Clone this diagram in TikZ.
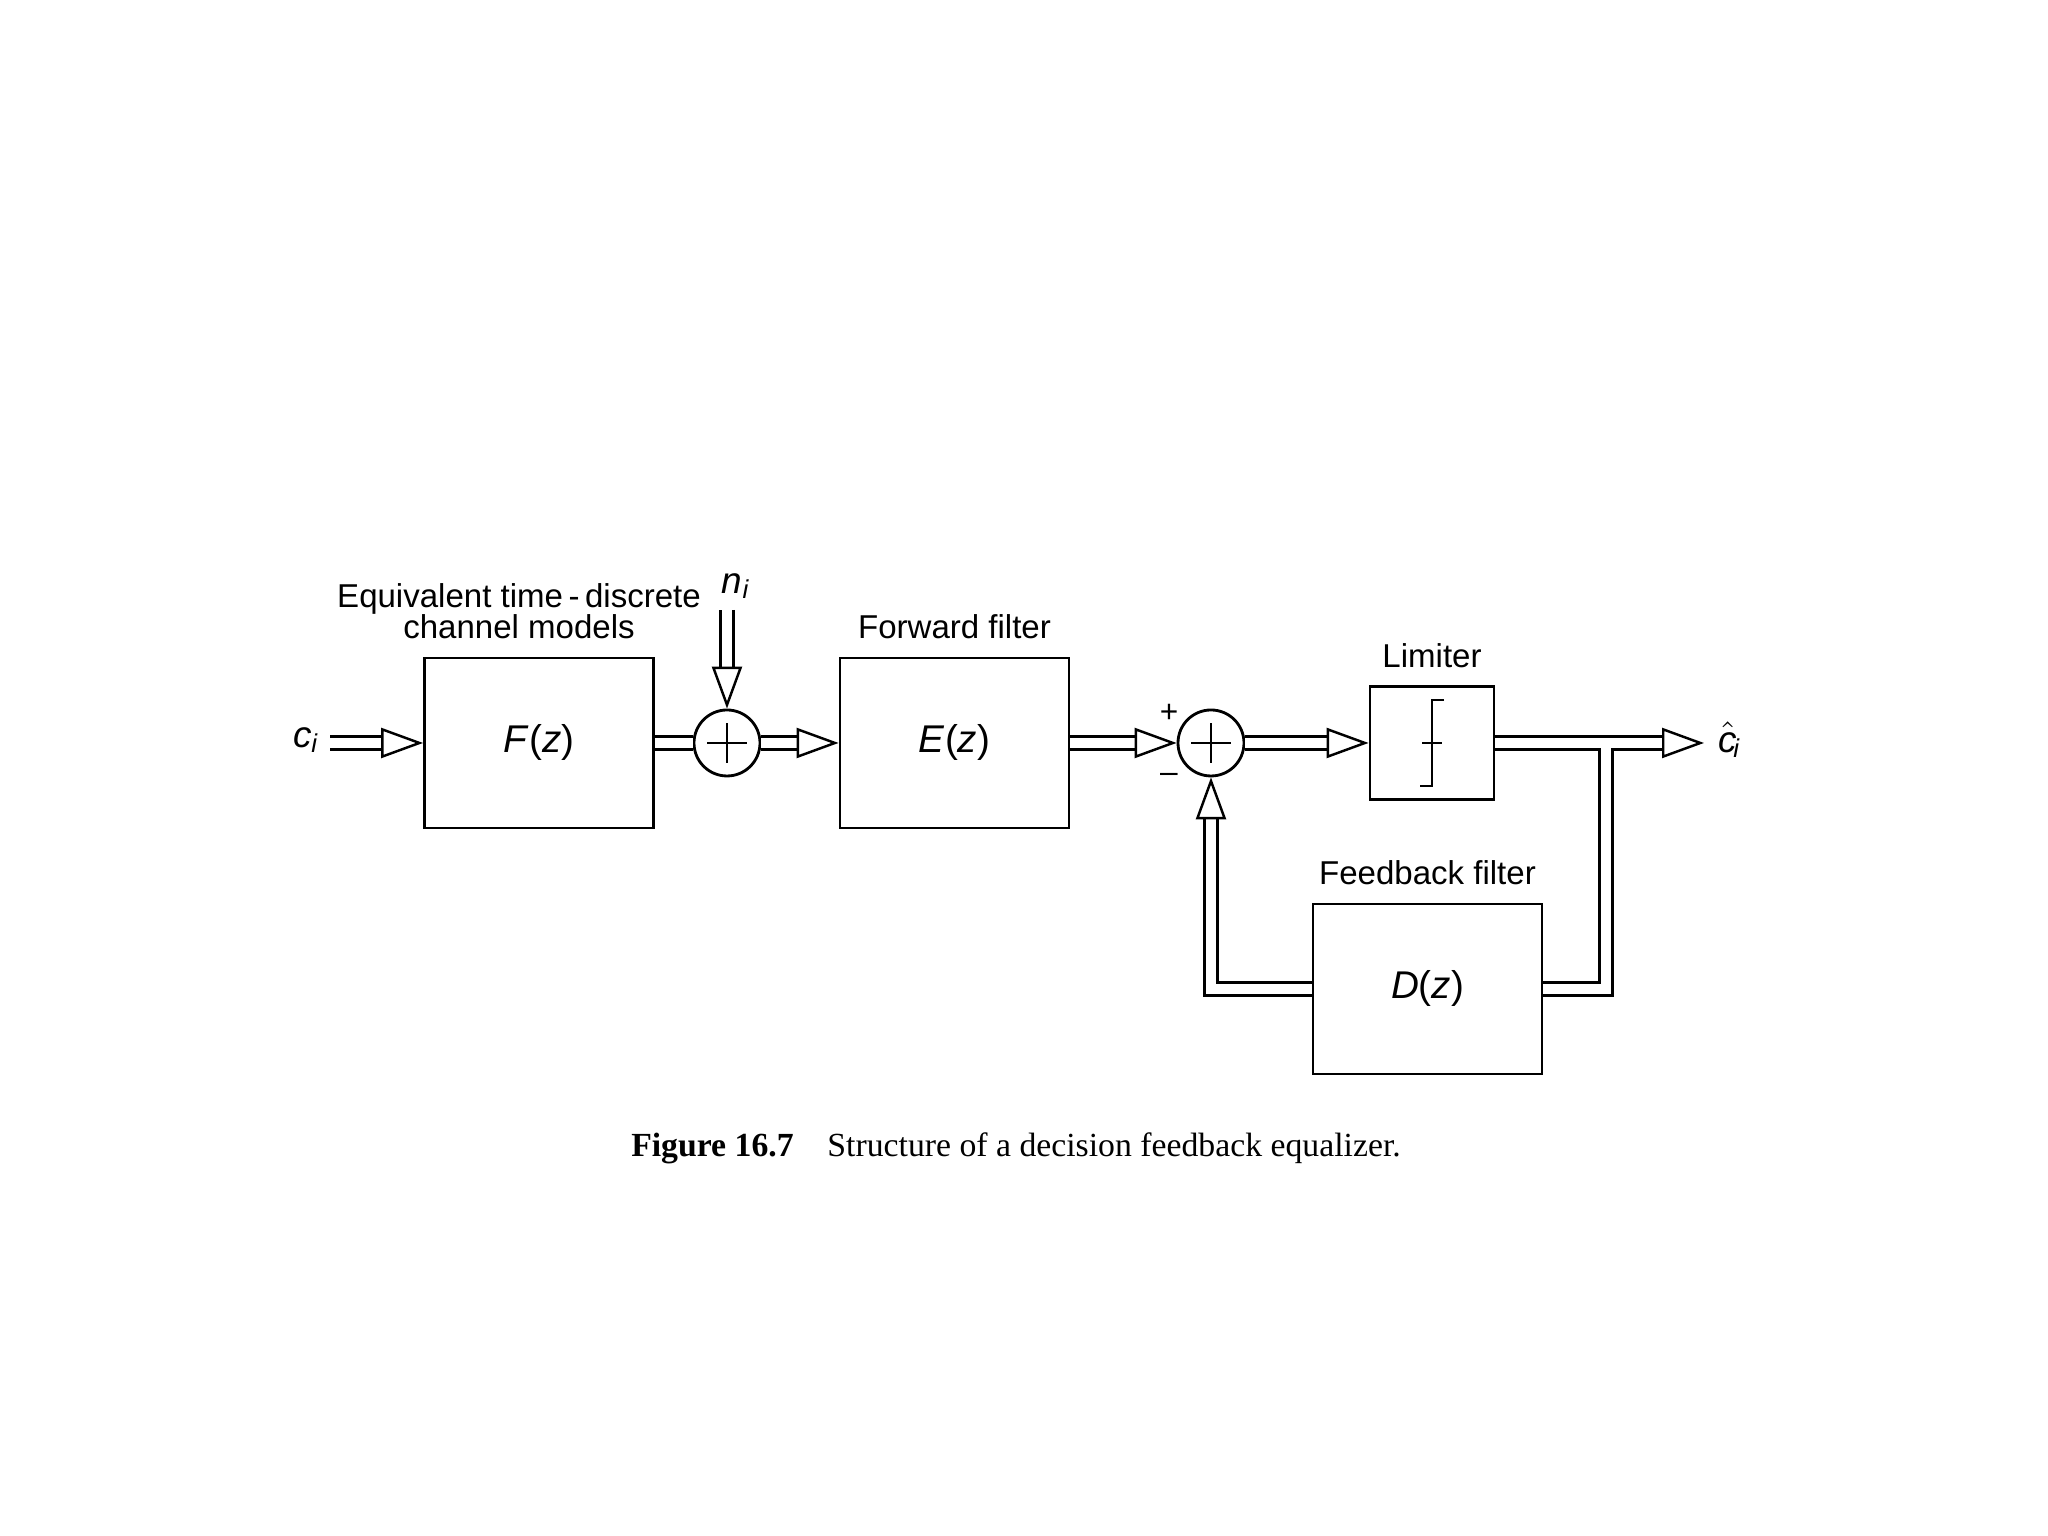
\documentclass[tikz,border=0pt]{standalone}
\usepackage{fontspec}
\setmainfont{Liberation Sans}
\newfontfamily\capfont{Liberation Serif}
\usetikzlibrary{arrows.meta, positioning}
\tikzset{
    block/.style={draw,line width=0.8pt,minimum width=2.29cm,minimum height=1.70cm,font=\fontsize{11}{13}\selectfont},
    adder/.style={draw,circle,line width=0.8pt,minimum size=0.66cm,inner sep=0pt},
    pipe/.style={double,double distance=3pt,line width=0.7pt},
    hollow/.style={-{Triangle[open,length=0.42cm,width=0.3cm,line width=0.7pt]}},
    lbl/.style={font=\fontsize{9.4}{11}\selectfont,align=center},
    sym/.style={font=\fontsize{10.5}{12}\selectfont},
}
\begin{document}
\begin{tikzpicture}
    \useasboundingbox (0,0) rectangle (20.48,15.36);
    % forward path
    \node[block] (F) at (5.39,7.93) {\textit{F}(\textit{z})};
    \node[adder] (s1) at (7.27,7.93) {};
    \node[block] (E) at (9.545,7.93) {\textit{E}(\textit{z})};
    \node[adder] (s2) at (12.11,7.93) {};
    \node[draw,line width=0.8pt,minimum width=1.24cm,minimum height=1.13cm] (lim) at (14.32,7.93) {};
    \node[block] (D) at (14.275,5.47) {\textit{D}(\textit{z})};
    % plus signs in adders
    \foreach \s in {s1,s2}{
        \draw[line width=0.7pt] ([xshift=-0.2cm]\s.center) -- ([xshift=0.2cm]\s.center);
        \draw[line width=0.7pt] ([yshift=-0.2cm]\s.center) -- ([yshift=0.2cm]\s.center);
    }
    % limiter symbol
    \draw[line width=0.7pt] ([xshift=0.12cm,yshift=0.43cm]lim.center) -- ([yshift=0.43cm]lim.center)
        -- ([yshift=-0.43cm]lim.center) -- ([xshift=-0.12cm,yshift=-0.43cm]lim.center);
    \draw[line width=0.7pt] ([xshift=-0.1cm]lim.center) -- ([xshift=0.1cm]lim.center);
    % labels
    \node[sym] (ci) at (3.06,7.96) {\textit{c\textsubscript{i}}};
    \node[sym] (ni) at (7.36,9.50) {\textit{n\textsubscript{i}}};
    \node[sym] (out) at (17.30,7.96) {$\hat{\textit{c}}$\kern-0.1em\textsubscript{\textit{i}}};
    \node[lbl,above=0.05cm of F,xshift=-0.2cm] (Flbl) {Equivalent time\,-\,discrete\\[-2pt]channel models};
    \node[lbl,above=0.05cm of E] (Elbl) {Forward filter};
    \node[lbl,above=0.05cm of lim] (Llbl) {Limiter};
    \node[lbl,above=0.05cm of D] (Dlbl) {Feedback filter};
    \node[font=\fontsize{9}{10}\selectfont] (plus) at (11.69,8.23) {+};
    \node[font=\fontsize{9}{10}\selectfont] (minus) at (11.69,7.58) {--};
    \coordinate (nin) at (7.27,9.26);
    \coordinate (cin) at (3.30,7.93);
    \coordinate (cout) at (17.04,7.93);
    \coordinate (br) at (16.06,7.93);
    % connectors
    \draw[pipe] (br) |- (D.east);
    \draw[pipe,hollow] (cin) -- (F.west);
    \draw[pipe] (F.east) -- (s1.west);
    \draw[pipe,hollow] (nin) -- (s1.north);
    \draw[pipe,hollow] (s1.east) -- (E.west);
    \draw[pipe,hollow] (E.east) -- (s2.west);
    \draw[pipe,hollow] (s2.east) -- (lim.west);
    \draw[pipe,hollow] (lim.east) -- (cout);
    \draw[pipe,hollow] (D.west) -| (s2.south);
    \fill[white] ([xshift=-1.5pt,yshift=-2.4pt]br) rectangle ([xshift=1.5pt,yshift=-1pt]br);
    % caption
    \node[font=\capfont\fontsize{9.6}{12}\selectfont] (cap) at (10.16,3.88)
        {\textbf{Figure 16.7}\quad Structure of a decision feedback equalizer.};
\end{tikzpicture}
\end{document}
